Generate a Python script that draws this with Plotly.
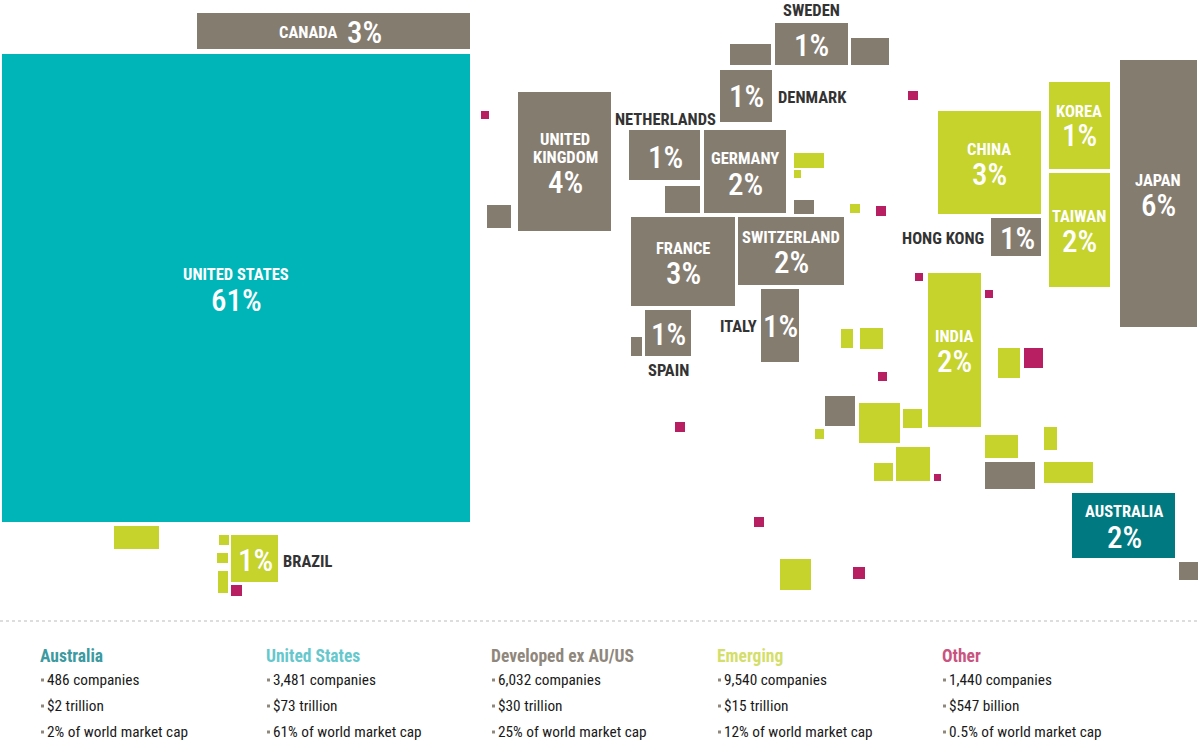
import plotly.graph_objects as go

# ---- cartogram cells: left, top, right, bottom ----
US_CELLS = [(2, 54, 470, 522)]
AUSTRALIA_CELLS = [(1072, 493, 1175, 558)]
DEVELOPED_CELLS = [
    (197, 13, 470, 49), (518, 92, 611, 231), (487, 205, 511, 228),
    (775, 23, 848, 65), (730, 44, 771, 65), (851, 38, 889, 65),
    (720, 70, 772, 122), (629, 130, 700, 180), (704, 130, 786, 213),
    (665, 186, 700, 213), (794, 200, 814, 214), (631, 217, 735, 306),
    (738, 217, 844, 285), (645, 310, 691, 356), (631, 337, 642, 356),
    (761, 289, 799, 362), (1120, 60, 1197, 327), (991, 218, 1041, 256),
    (825, 396, 855, 426), (985, 462, 1035, 489), (1179, 562, 1198, 580),
]
EMERGING_CELLS = [
    (231, 535, 278, 582), (219, 535, 229, 545), (217, 553, 228, 563),
    (218, 571, 228, 593), (114, 526, 159, 549), (794, 153, 824, 168),
    (794, 170, 801, 178), (850, 204, 860, 213), (938, 111, 1041, 214),
    (1049, 82, 1110, 169), (1049, 173, 1110, 287), (928, 273, 981, 427),
    (841, 329, 853, 348), (860, 328, 883, 349), (859, 403, 900, 443),
    (903, 409, 922, 428), (815, 429, 824, 439), (998, 348, 1020, 378),
    (985, 435, 1018, 458), (1044, 427, 1057, 450), (1044, 462, 1093, 483),
    (874, 463, 893, 481), (896, 447, 930, 481), (780, 559, 811, 590),
]
OTHER_CELLS = [
    (481, 111, 489, 119), (231, 585, 242, 596), (908, 91, 918, 100),
    (876, 206, 886, 216), (915, 273, 923, 281), (985, 290, 993, 298),
    (878, 372, 887, 381), (1024, 348, 1043, 368), (675, 422, 685, 432),
    (934, 474, 941, 481), (754, 517, 764, 527), (853, 567, 865, 579),
]

GROUP_NAMES = ["United States", "Australia", "Developed ex AU/US", "Emerging", "Other"]
GROUP_CELLS = [US_CELLS, AUSTRALIA_CELLS, DEVELOPED_CELLS, EMERGING_CELLS, OTHER_CELLS]
GROUP_COLORS = ["#00B5B8", "#007A80", "#857C70", "#C5D32C", "#B81F63"]

# ---- country labels: text, x, y ----
WHITE_NAMES = [
    ("UNITED STATES", 236, 274), ("CANADA", 308, 32), ("UNITED", 565, 139), ("KINGDOM", 565, 157),
    ("GERMANY", 745, 158), ("FRANCE", 683, 248), ("SWITZERLAND", 791, 237), ("CHINA", 989, 149),
    ("KOREA", 1079, 111), ("TAIWAN", 1079, 216), ("JAPAN", 1158, 180), ("INDIA", 954, 336),
    ("AUSTRALIA", 1124, 511),
]
DARK_NAMES = [
    ("SWEDEN", 811, 10), ("DENMARK", 812, 97), ("NETHERLANDS", 665, 119), ("HONG KONG", 943, 238),
    ("ITALY", 738, 326), ("SPAIN", 668, 370), ("BRAZIL", 307, 561),
]
SHARES = [
    ("61%", 236, 300), ("3%", 364, 32), ("4%", 565, 182), ("1%", 811, 45), ("1%", 746, 96),
    ("1%", 665, 157), ("2%", 745, 184), ("3%", 683, 273), ("2%", 791, 262), ("1%", 668, 334),
    ("1%", 780, 326), ("3%", 989, 174), ("1%", 1079, 135), ("2%", 1079, 241), ("6%", 1158, 205),
    ("1%", 1017, 238), ("2%", 954, 361), ("2%", 1124, 537), ("1%", 255, 560),
]

# ---- footer ----
FOOTER_X = [40, 266, 491, 717, 942]
FOOTER_TITLES = ["Australia", "United States", "Developed ex AU/US", "Emerging", "Other"]
FOOTER_COLORS = ["#3C9AA0", "#66C8CC", "#8F877C", "#D4DE6A", "#C8547F"]
COMPANIES = ["486 companies", "3,481 companies", "6,032 companies", "9,540 companies", "1,440 companies"]
CAPS = ["$2 trillion", "$73 trillion", "$30 trillion", "$15 trillion", "$547 billion"]
SHARES_WORLD = ["2% of world market cap", "61% of world market cap", "25% of world market cap",
                "12% of world market cap", "0.5% of world market cap"]
FOOTER_ROWS_Y = [680, 706, 732]

FONT = "Roboto Condensed"
fig = go.Figure()

for name, cells, color in zip(GROUP_NAMES, GROUP_CELLS, GROUP_COLORS):
    fig.add_trace(go.Bar(
        x=[(c[0] + c[2]) / 2 for c in cells],
        width=[c[2] - c[0] for c in cells],
        base=[c[1] for c in cells],
        y=[c[3] - c[1] for c in cells],
        name=name,
        marker=dict(color=color, line=dict(width=0)),
    ))

bullet_x, bullet_y = [], []
for fx in FOOTER_X:
    for fy in FOOTER_ROWS_Y:
        bullet_x.append(fx + 2.5)
        bullet_y.append(fy)
fig.add_trace(go.Scatter(x=bullet_x, y=bullet_y, mode="markers",
                         marker=dict(symbol="square", size=3, color="#8F877C", line=dict(width=0))))


def note(text, x, y, size, color, bold=False, anchor="center", weight=None):
    font = dict(family=FONT, size=size, color=color)
    if weight:
        font["weight"] = weight
    fig.add_annotation(
        x=x, y=y, xref="x", yref="y", text=f"<b>{text}</b>" if bold else text,
        showarrow=False, xanchor=anchor, yanchor="middle", font=font,
    )


for t, x, y in WHITE_NAMES:
    note(t, x, y, 16.5, "#FFFFFF", bold=True)
for t, x, y in DARK_NAMES:
    note(t, x, y, 16.5, "#333333", bold=True)
for t, x, y in SHARES:
    note(t, x, y, 31, "#FFFFFF", weight=500)

for i, fx in enumerate(FOOTER_X):
    note(FOOTER_TITLES[i], fx - 2, 656, 17.5, FOOTER_COLORS[i], bold=True, anchor="left")
    note(COMPANIES[i], fx + 5, FOOTER_ROWS_Y[0], 15.3, "#1A1A1A", anchor="left")
    note(CAPS[i], fx + 5, FOOTER_ROWS_Y[1], 15.3, "#1A1A1A", anchor="left")
    note(SHARES_WORLD[i], fx + 5, FOOTER_ROWS_Y[2], 15.3, "#1A1A1A", anchor="left")

fig.add_shape(type="line", x0=0, x1=1200, y0=621, y1=621, xref="x", yref="y",
              line=dict(color="#BBBBBB", width=1, dash="dot"))

fig.update_layout(
    width=1200, height=746, margin=dict(l=0, r=0, t=0, b=0, pad=0),
    paper_bgcolor="#FFFFFF", plot_bgcolor="#FFFFFF",
    barmode="overlay", showlegend=False, bargap=0,
    xaxis=dict(range=[0, 1200], visible=False, fixedrange=True),
    yaxis=dict(range=[746, 0], visible=False, fixedrange=True),
)
fig.write_html("out.html", config={"displayModeBar": False},
               post_script="document.body.style.margin='0';document.body.style.overflow='hidden';")
